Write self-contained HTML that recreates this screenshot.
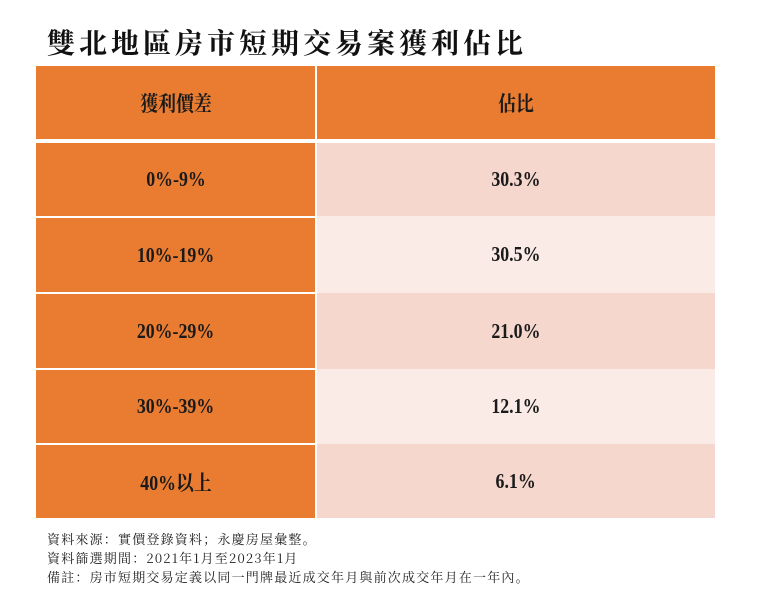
<!DOCTYPE html>
<html><head><meta charset="utf-8"><style>
body{margin:0;width:759px;height:602px;background:#fff;overflow:hidden;position:relative;font-family:"Liberation Serif","Noto Serif CJK SC",serif;}
.t{position:absolute;left:47px;top:22px;font-size:28px;font-weight:bold;letter-spacing:4px;color:#111;white-space:nowrap;}
.c{position:absolute;display:flex;align-items:center;justify-content:center;font-size:21px;font-weight:bold;color:#1a1a1a;}
.c span{display:inline-block;transform:scaleX(0.85);}
.o{background:#E97C31;}
.a{background:#F6D7CD;}
.b{background:#FAEBE6;}
.n{position:absolute;left:47px;font-size:13px;letter-spacing:1.2px;color:#222;font-family:"Noto Serif CJK SC","Liberation Sans",serif;white-space:nowrap;}
</style></head><body>
<div class="t">雙北地區房市短期交易案獲利佔比</div>
<div class="c o" style="left:36px;top:66px;width:279px;height:73px"><span>獲利價差</span></div>
<div class="c o" style="left:317px;top:66px;width:398px;height:73px"><span>佔比</span></div>

<div class="c o" style="left:36px;top:143px;width:279px;height:73px"><span>0%-9%</span></div>
<div class="c a" style="left:317px;top:143px;width:398px;height:73px"><span>30.3%</span></div>
<div class="c o" style="left:36px;top:218px;width:279px;height:74px"><span>10%-19%</span></div>
<div class="c b" style="left:317px;top:216px;width:398px;height:77px"><span>30.5%</span></div>
<div class="c o" style="left:36px;top:294px;width:279px;height:74px"><span>20%-29%</span></div>
<div class="c a" style="left:317px;top:293px;width:398px;height:76px"><span>21.0%</span></div>
<div class="c o" style="left:36px;top:370px;width:279px;height:73px"><span>30%-39%</span></div>
<div class="c b" style="left:317px;top:369px;width:398px;height:75px"><span>12.1%</span></div>
<div class="c o" style="left:36px;top:445px;width:279px;height:73px"><span>40%以上</span></div>
<div class="c a" style="left:317px;top:444px;width:398px;height:74px"><span>6.1%</span></div>

<div class="n" style="top:529px">資料來源：實價登錄資料；永慶房屋彙整。</div>
<div class="n" style="top:548px">資料篩選期間：2021年1月至2023年1月</div>
<div class="n" style="top:567px">備註：房市短期交易定義以同一門牌最近成交年月與前次成交年月在一年內。</div>
</body></html>
